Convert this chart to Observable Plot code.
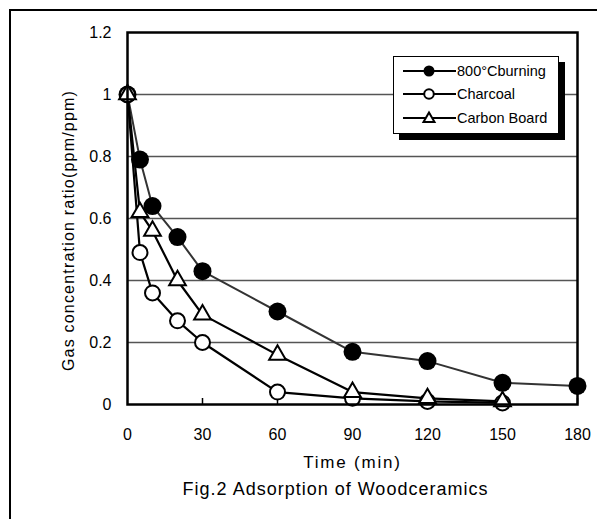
<!DOCTYPE html>
<html>
<head>
<meta charset="utf-8">
<script src="https://cdn.jsdelivr.net/npm/d3@7"></script>
<script src="https://cdn.jsdelivr.net/npm/@observablehq/plot@0.6"></script>
<style>
  body { margin: 0; background: #fff; }
  #wrap { position: relative; width: 597px; height: 519px; overflow: hidden; font-family: "Liberation Sans", Arial, sans-serif; }
  #border { position: absolute; left: 9px; top: 9px; width: 700px; height: 700px; border-left: 2px solid #000; border-top: 2px solid #000; }
  #chart { position: absolute; left: 0; top: 0; }
  #legend { position: absolute; left: 393px; top: 56px; width: 164px; height: 76px; background: #fff; border: 1.5px solid #000; box-shadow: 6px 6px 0 #000; }
</style>
</head>
<body>
<div id="wrap">
  <div id="border"></div>
  <div id="chart"></div>
  <div id="legend"></div>
</div>
<script>
// ---- data ----
const seriesNames = ["800°Cburning", "Charcoal", "Carbon Board"];
const timeBurning = [0, 5, 10, 20, 30, 60, 90, 120, 150, 180];
const valBurning  = [1, 0.79, 0.64, 0.54, 0.43, 0.30, 0.17, 0.14, 0.07, 0.06];
const timeCharcoal = [0, 5, 10, 20, 30, 60, 90, 120, 150];
const valCharcoal  = [1, 0.49, 0.36, 0.27, 0.20, 0.04, 0.02, 0.01, 0.005];
const timeBoard = [0, 5, 10, 20, 30, 60, 90, 120, 150];
const valBoard  = [1, 0.62, 0.56, 0.40, 0.29, 0.16, 0.04, 0.02, 0.01];
const xTicks = [0, 30, 60, 90, 120, 150, 180];
const yTicks = [0, 0.2, 0.4, 0.6, 0.8, 1, 1.2];
const gridTicks = [0.2, 0.4, 0.6, 0.8, 1.0];
const xLabel = "Time (min)";
const yLabel = "Gas concentration ratio(ppm/ppm)";
const caption = "Fig.2 Adsorption of Woodceramics";

const burning = timeBurning.map((t, i) => ({t, v: valBurning[i]}));
const charcoal = timeCharcoal.map((t, i) => ({t, v: valCharcoal[i]}));
const board = timeBoard.map((t, i) => ({t, v: valBoard[i]}));

const fontFam = "'Liberation Sans', Arial, sans-serif";

const chart = Plot.plot({
  width: 597,
  height: 519,
  marginLeft: 127,
  marginRight: 20,
  marginTop: 32,
  marginBottom: 115,
  style: {fontFamily: fontFam, fontSize: "16px", background: "transparent", color: "#000"},
  x: {domain: [0, 180]},
  y: {domain: [0, 1.2]},
  marks: [
    Plot.gridY(gridTicks, {stroke: "#555", strokeOpacity: 1, strokeWidth: 1.5}),
    Plot.axisX(xTicks, {tickSize: 0, tickPadding: 24, fontSize: 16, label: null}),
    Plot.axisX(xTicks.slice(1), {tickSize: 6, dy: -6, tickFormat: () => "", label: null, strokeWidth: 1.5}),
    Plot.axisY(yTicks, {tickSize: 0, tickPadding: 16, fontSize: 16, label: null,
      tickFormat: d => String(+d.toFixed(1))}),
    Plot.line(burning, {x: "t", y: "v", stroke: "#333", strokeWidth: 2}),
    Plot.line(charcoal, {x: "t", y: "v", stroke: "#000", strokeWidth: 2.2}),
    Plot.line(board, {x: "t", y: "v", stroke: "#000", strokeWidth: 2.2}),
    Plot.dot(burning, {x: "t", y: "v", r: 9, fill: "#000", stroke: "none"}),
    Plot.dot(charcoal, {x: "t", y: "v", r: 7.5, fill: "#fff", stroke: "#000", strokeWidth: 2}),
    Plot.dot(board, {x: "t", y: "v", r: 6.2, symbol: "triangle", fill: "#fff", stroke: "#000", strokeWidth: 2}),
    Plot.frame({stroke: "#000", strokeWidth: 2.5}),
    Plot.text([xLabel], {frameAnchor: "bottom", dy: 63, text: d => d, fontSize: 17, style: "letter-spacing:1.8px"}),
    Plot.text([caption], {frameAnchor: "bottom", dx: -17, dy: 90, text: d => d, fontSize: 18}),
    Plot.text([yLabel], {frameAnchor: "left", textAnchor: "middle", dx: -59, dy: 12, rotate: -90, text: d => d, fontSize: 16})
  ]
});
document.getElementById("chart").appendChild(chart);
// letter spacing tweaks for wide source font
const texts = chart.querySelectorAll("text");
texts.forEach(t => {
  if (t.textContent === caption) t.setAttribute("letter-spacing", "1");
  if (t.textContent === yLabel) t.setAttribute("letter-spacing", "1.2");
  if (t.textContent === xLabel) t.setAttribute("letter-spacing", "1.8");
});

// ---- legend (overlay) ----
const legendSymbols = [
  `<circle cx="35" r="5.5" fill="#000"/>`,
  `<circle cx="35" r="4.8" fill="#fff" stroke="#000" stroke-width="2"/>`,
  `<path d="M35,-5.5 L40.5,4 L29.5,4 Z" fill="#fff" stroke="#000" stroke-width="2"/>`
];
const rowY = [14, 37, 61];
let svg = `<svg width="164" height="76" style="position:absolute;left:0;top:0;font-family:${fontFam}">`;
seriesNames.forEach((name, i) => {
  svg += `<g transform="translate(0,${rowY[i]})">
    <line x1="9" x2="62" y1="0" y2="0" stroke="#000" stroke-width="2"/>
    ${legendSymbols[i]}
    <text x="63" y="0" dy="0.35em" font-size="14.5">${name}</text>
  </g>`;
});
svg += `</svg>`;
document.getElementById("legend").innerHTML = svg;
</script>
</body>
</html>
